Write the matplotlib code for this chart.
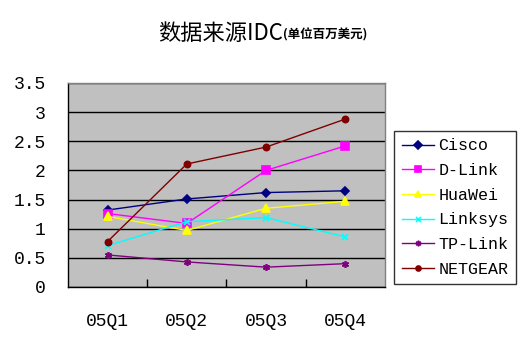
import matplotlib
matplotlib.use("Agg")
import matplotlib.pyplot as plt
import numpy as np

# ---- Data (millions USD, source IDC) ----
quarters = ["05Q1", "05Q2", "05Q3", "05Q4"]
cisco = [1.32, 1.51, 1.62, 1.65]
dlink = [1.26, 1.09, 2.00, 2.42]
huawei = [1.21, 0.97, 1.35, 1.47]
linksys = [0.71, 1.12, 1.19, 0.86]
tplink = [0.55, 0.43, 0.34, 0.40]
netgear = [0.78, 2.11, 2.40, 2.88]
yticks = [0, 0.5, 1, 1.5, 2, 2.5, 3, 3.5]
ytick_labels = ["0", "0.5", "1", "1.5", "2", "2.5", "3", "3.5"]

series = [
    ("Cisco", cisco, "#000080", "D", 4.5),
    ("D-Link", dlink, "#FF00FF", "s", 5.5),
    ("HuaWei", huawei, "#FFFF00", "^", 5.5),
    ("Linksys", linksys, "#00FFFF", "x", 4.5),
    ("TP-Link", tplink, "#800080", (6, 2, 0), 5),
    ("NETGEAR", netgear, "#800000", "o", 4.5),
]

mono = ["Liberation Mono", "DejaVu Sans Mono"]
cjk = ["Noto Sans CJK SC", "DejaVu Sans"]

fig = plt.figure(figsize=(5.29, 3.53), dpi=100)
ax = fig.add_axes([0.1285, 0.187, 0.599, 0.578])
ax.set_facecolor("#C0C0C0")

x = np.arange(len(quarters))
for name, vals, color, marker, ms in series:
    ax.plot(x, vals, color=color, lw=1, marker=marker, ms=ms,
            mec=color, mfc=color, mew=1.2, label=name)

ax.set_xlim(-0.5, len(quarters) - 0.5)
ax.set_ylim(0, 3.5)
ax.set_yticks(yticks)
ax.set_yticklabels(ytick_labels, fontfamily=mono, fontsize=13)
ax.set_xticks(x)
ax.set_xticklabels(quarters, fontfamily=mono, fontsize=13)
ax.tick_params(axis="x", length=0, pad=19)
ax.tick_params(axis="y", length=0, pad=16)
ax.set_xticks(x[:-1] + 0.5, minor=True)
ax.tick_params(axis="x", which="minor", direction="in", length=6, width=1, color="black")
ax.grid(axis="y", color="black", lw=1)
ax.set_axisbelow(True)
for sp in ax.spines.values():
    sp.set_color("black")
    sp.set_linewidth(1)
ax.spines["top"].set_color("#808080")
ax.spines["right"].set_color("#808080")

leg = ax.legend(loc="upper left", bbox_to_anchor=(1.03, 0.765),
                prop={"family": mono, "size": 12}, frameon=True, fancybox=False,
                handlelength=1.9, handletextpad=0.3, borderpad=0.45,
                labelspacing=0.58, borderaxespad=0, markerscale=0.8)
leg.get_frame().set_edgecolor("black")
leg.get_frame().set_linewidth(1)

fig.text(0.535, 0.905, "数据来源IDC", ha="right", va="center",
         fontfamily=cjk, fontsize=16)
fig.text(0.535, 0.9, "(单位百万美元)", ha="left", va="center",
         fontfamily=cjk, fontsize=9, fontweight="bold")

fig.savefig("out.png", dpi=100)
